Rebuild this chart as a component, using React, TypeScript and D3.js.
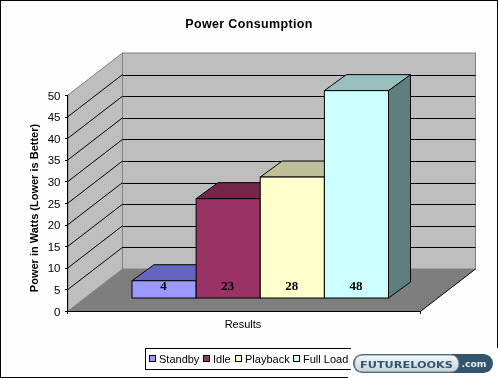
import React from "react";
import * as d3 from "d3";

const categories = ["Standby", "Idle", "Playback", "Full Load"];
const values = [4, 23, 28, 48];
const yTicks = [0, 5, 10, 15, 20, 25, 30, 35, 40, 45, 50];
const frontColors = ["#9999ff", "#993366", "#ffffcc", "#ccffff"];
const topColors = ["#6666c0", "#732649", "#bfbf99", "#99bfbf"];
const sideColors = ["#5a5a9a", "#5c1f3d", "#999979", "#5f7f7f"];
const legendX = [150, 204, 236, 294];

const W = 498, H = 378;
const x0 = 68, yBase = 311, dx = 54.5, dy = -42;
const xRight = 421;
const y = d3.scaleLinear().domain([0, 50]).range([yBase, 95]);
const barX = d3.scaleBand<string>().domain(categories).range([132, 388.5]).paddingInner(0);
const barBase = 298, bdx = 22, bdy = -16;
const barY = d3.scaleLinear().domain([0, 50]).range([barBase, barBase - 216]);
const sans = "Arial, 'Liberation Sans', sans-serif";

const pts = (a: number[][]) => a.map(p => p.join(",")).join(" ");

export default function App() {
  return (
    <svg width={W} height={H} style={{ position: "fixed", left: 0, top: 0, display: "block" }} fontFamily={sans}>
      <defs>
        <pattern id="bg" width="8" height="8" patternUnits="userSpaceOnUse">
          <rect width="8" height="8" fill="#ffffff" />
          <rect x="2" y="2" width="1" height="1" fill="#e2e2e2" />
          <rect x="6" y="6" width="1" height="1" fill="#e2e2e2" />
        </pattern>
        <pattern id="wall" width="2" height="2" patternUnits="userSpaceOnUse">
          <rect width="2" height="2" fill="#c0c0c0" />
          <rect width="1" height="1" fill="#b8b8b8" />
        </pattern>
        <pattern id="floor" width="2" height="2" patternUnits="userSpaceOnUse">
          <rect width="2" height="2" fill="#808080" />
          <rect width="1" height="1" fill="#787878" />
        </pattern>
        <linearGradient id="pill" x1="0" x2="0" y1="0" y2="1">
          <stop offset="0" stopColor="#f4f8fa" />
          <stop offset="1" stopColor="#c5d3dc" />
        </linearGradient>
      </defs>

      <rect x="0.5" y="0.5" width={W - 1} height={H - 1} fill="url(#bg)" stroke="#000" />

      <text x={249} y={28} textAnchor="middle" fontSize={12.5} fontWeight="bold" letterSpacing={0.35}>Power Consumption</text>

      {/* walls and floor */}
      <polygon points={pts([[x0, yBase], [x0 + dx, yBase + dy], [x0 + dx, y(50) + dy], [x0, y(50)]])} fill="url(#wall)" stroke="#808080" />
      <rect x={x0 + dx} y={y(50) + dy} width={xRight - x0} height={yBase - y(50)} fill="url(#wall)" stroke="#808080" />
      <polygon points={pts([[x0, yBase], [xRight, yBase], [xRight + dx, yBase + dy], [x0 + dx, yBase + dy]])} fill="url(#floor)" />
      <line x1={xRight} y1={yBase} x2={xRight + dx} y2={yBase + dy} stroke="#000" />

      {/* gridlines */}
      {yTicks.filter(t => t > 0 && t < 50).map(t => (
        <g key={t} stroke="#000" strokeWidth={1} fill="none">
          <line x1={x0} y1={y(t)} x2={x0 + dx} y2={y(t) + dy} />
          <line x1={x0 + dx} y1={Math.round(y(t) + dy) + 0.5} x2={xRight + dx} y2={Math.round(y(t) + dy) + 0.5} />
        </g>
      ))}

      {/* y axis */}
      <line x1={x0 - 0.5} y1={y(50)} x2={x0 - 0.5} y2={yBase + 3} stroke="#000" />
      {yTicks.map(t => (
        <g key={t}>
          <line x1={x0 - 3} x2={x0} y1={Math.round(y(t)) + 0.5} y2={Math.round(y(t)) + 0.5} stroke="#000" />
          <text x={x0 - 7.5} y={y(t) + 4.5} textAnchor="end" fontSize={11.5}>{t}</text>
        </g>
      ))}
      {/* x axis */}
      <line x1={x0} x2={xRight} y1={yBase + 0.5} y2={yBase + 0.5} stroke="#000" />
      <line x1={xRight - 0.5} x2={xRight - 0.5} y1={yBase} y2={yBase + 3} stroke="#000" />
      <text x={243} y={328} textAnchor="middle" fontSize={11}>Results</text>
      <text transform="translate(38,208) rotate(-90)" textAnchor="middle" fontSize={11} fontWeight="bold">Power in Watts (Lower is Better)</text>

      {/* bars */}
      {categories.map((c, i) => {
        const l = barX(c)!, r = l + barX.bandwidth(), t = barY(values[i]);
        return (
          <g key={c} stroke="#000" strokeWidth={1}>
            <polygon points={pts([[r, barBase], [r + bdx, barBase + bdy], [r + bdx, t + bdy], [r, t]])} fill={sideColors[i]} />
            <polygon points={pts([[l, t], [l + bdx, t + bdy], [r + bdx, t + bdy], [r, t]])} fill={topColors[i]} />
            <rect x={l} y={t} width={r - l} height={barBase - t} fill={frontColors[i]} />
          </g>
        );
      })}
      {categories.map((c, i) => (
        <text key={c} x={barX(c)! + barX.bandwidth() / 2 - 0.5} y={289.5} textAnchor="middle" fontSize={13} fontWeight="bold" fontFamily="'Liberation Serif', serif" fill="#000">{values[i]}</text>
      ))}

      {/* legend */}
      <rect x={145.5} y={348.5} width={220} height={21} fill="#fff" stroke="#000" />
      {categories.map((c, i) => (
        <g key={c}>
          <rect x={legendX[i] - 0.5} y={355.5} width={6} height={6} fill={frontColors[i]} stroke="#000" />
          <text x={legendX[i] + 9} y={362.5} fontSize={11}>{c}</text>
        </g>
      ))}

      {/* logo covering the corner */}
      <rect x={348} y={370} width={150} height={8} fill="#fff" />
      <rect x={351} y={348} width={147} height={30} fill="#fff" />
      <rect x={497} y={340} width={1} height={8} fill="#000" />
      <rect x={353} y={354} width={140} height={19} rx={9.5} fill="#33546e" />
      <path d="M363.5 355 H451 Q458 355 459 364 Q458 372 451 372 H363.5 Q354.5 372 354.5 363.5 Q354.5 355 363.5 355 Z" fill="url(#pill)" stroke="#6f8799" />
      <text x={360} y={367.5} fontSize={9} fontWeight="900" fontFamily="'DejaVu Sans', sans-serif" fill="#33546e" textLength={93} lengthAdjust="spacingAndGlyphs">FUTURELOOKS</text>
      <text x={461.5} y={367} fontSize={9.5} fontWeight="bold" fontFamily="'DejaVu Sans', sans-serif" fill="#e8eef2" textLength={25} lengthAdjust="spacingAndGlyphs">.com</text>
    </svg>
  );
}
